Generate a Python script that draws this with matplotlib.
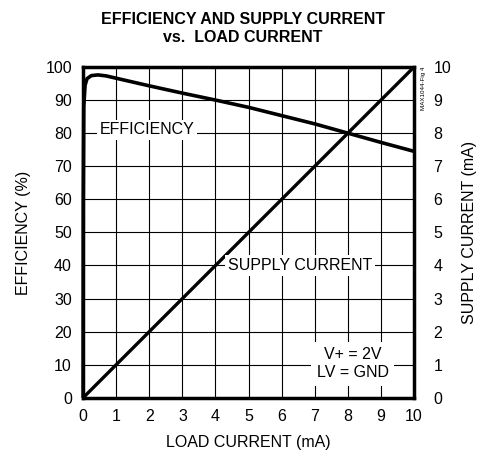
import numpy as np
import matplotlib.pyplot as plt
from matplotlib import font_manager

names = {f.name for f in font_manager.fontManager.ttflist}
fam = 'Liberation Sans Narrow' if 'Liberation Sans Narrow' in names else 'Liberation Sans'
plt.rcParams['font.family'] = [fam, 'DejaVu Sans']

# data
load = [0.0, 0.005, 0.02, 0.06, 0.12, 0.25, 0.45, 0.7, 1, 2, 3, 4, 5, 6, 7, 8, 9, 10]
eff = [0, 60, 88, 94.5, 96.5, 97.4, 97.6, 97.3, 96.6, 94.3, 92.1, 90, 87.8, 85.3, 82.8, 80, 77.2, 74.5]
supply_x = [0, 10]
supply_i = [0, 10]

fig = plt.figure(figsize=(4.86, 4.62), dpi=100)
ax = fig.add_axes([0.171, 0.139, 0.681, 0.716])

ax.set_xlim(0, 10)
ax.set_ylim(0, 100)
ax.set_xticks(range(0, 11))
ax.set_yticks(range(0, 101, 10))
ax.grid(True, color='black', linewidth=0.8)
ax.tick_params(length=0, labelsize=11.5, pad=8)
for s in ax.spines.values():
    s.set_linewidth(2.5)

ax.plot(load, eff, color='black', linewidth=2.6, solid_capstyle='butt', clip_on=False)

ax2 = ax.twinx()
ax2.set_ylim(0, 10)
ax2.set_yticks(range(0, 11))
ax2.tick_params(length=0, labelsize=11.5, pad=14)
ax2.plot(supply_x, supply_i, color='black', linewidth=2.4)
for s in ax2.spines.values():
    s.set_visible(False)

box = dict(facecolor='white', edgecolor='none', pad=2)
ax.text(0.5, 81, 'EFFICIENCY', fontsize=11.5, va='center', ha='left', bbox=box)
ax2.text(6.55, 4.0, 'SUPPLY CURRENT', fontsize=11.5, va='center', ha='center', bbox=box)
ax2.text(8.15, 1.03, 'V+ = 2V\nLV = GND', fontsize=11.5, va='center', ha='center',
         linespacing=1.25, bbox=dict(facecolor='white', edgecolor='none', pad=4))
fig.text(0.872, 0.855, 'MAX1044-Fig 4', fontsize=4.5, rotation=90, va='top', ha='center')

ax.set_xlabel('LOAD CURRENT (mA)', fontsize=11.5, labelpad=8)
ax.set_ylabel('EFFICIENCY (%)', fontsize=11.5, labelpad=10)
ax2.set_ylabel('SUPPLY CURRENT (mA)', fontsize=11.5, labelpad=8)

fig.text(0.5, 0.975, 'EFFICIENCY AND SUPPLY CURRENT\nvs.  LOAD CURRENT', fontsize=11.5,
         fontweight='bold', ha='center', va='top', linespacing=1.3)

fig.savefig('out.png', dpi=100)
